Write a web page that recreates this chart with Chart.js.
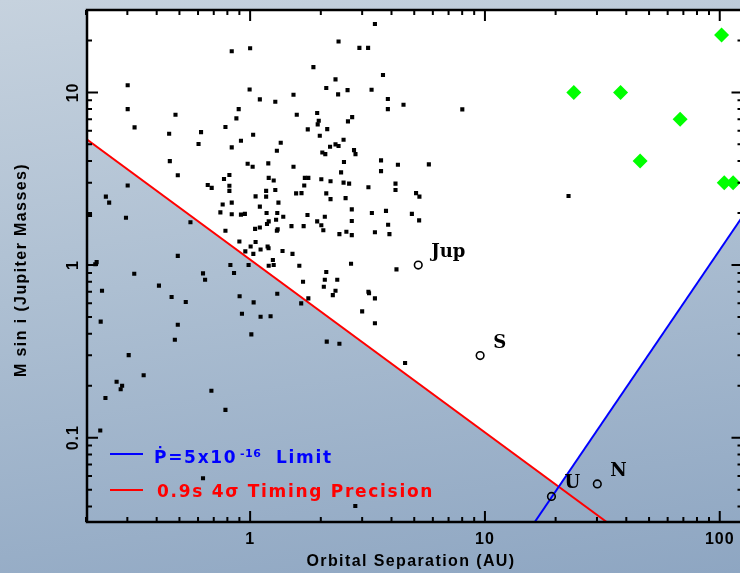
<!DOCTYPE html>
<html>
<head>
<meta charset="utf-8">
<script src="https://cdn.jsdelivr.net/npm/chart.js@4/dist/chart.umd.min.js"></script>
<style>
  html, body {
    margin: 0;
    padding: 0;
    width: 740px;
    height: 573px;
    overflow: hidden;
    background: linear-gradient(172deg, #c6d2de 0%, #adbfd2 45%, #8ea6c2 100%);
  }
  #wrap { position: absolute; left: 0; top: 0; width: 750px; height: 573px; }
  canvas { display: block; }
</style>
</head>
<body>
<div id="wrap"><canvas id="sepChart" width="750" height="573"></canvas></div>
<script>
// radial velocity planets: [separation AU, M sin i (Mjup)]
const rvPlanets = [
  [0.301, 11.0], [0.301, 8.0], [0.481, 7.42], [0.322, 6.27], [0.452, 5.76], [0.618, 5.89], [0.603, 5.02],
  [0.455, 4.0], [0.492, 3.31], [0.301, 2.89], [0.243, 2.49], [0.251, 2.30], [0.208, 1.95], [0.296, 1.88],
  [0.557, 1.77], [0.222, 1.04], [0.219, 1.01], [0.492, 1.13], [0.321, 0.89], [0.234, 0.71], [0.409, 0.76],
  [0.463, 0.653], [0.532, 0.611], [0.231, 0.47], [0.492, 0.451], [0.478, 0.369], [0.304, 0.301], [0.352, 0.230],
  [0.270, 0.211], [0.285, 0.200], [0.281, 0.191], [0.242, 0.170], [0.684, 0.187], [0.230, 0.110], [0.630, 0.0582],
  [0.785, 0.145], [2.805, 0.0402],
  [3.40, 24.9], [2.38, 19.7], [0.835, 17.3], [1.00, 18.0], [2.92, 18.1], [3.18, 18.1], [1.86, 14.0], [3.68, 12.6],
  [2.31, 11.9], [0.995, 10.4], [2.11, 10.6], [2.60, 10.3], [3.29, 10.35], [1.53, 9.69], [2.37, 9.74], [1.10, 9.11],
  [1.28, 8.82], [3.86, 9.15], [3.86, 8.0], [4.50, 8.48], [0.894, 8.0], [0.874, 7.07], [1.58, 7.42], [1.93, 7.59],
  [1.96, 6.85], [1.94, 6.53], [2.72, 7.19], [2.61, 6.79], [0.785, 6.30], [1.76, 6.11], [2.13, 6.13], [1.03, 5.68],
  [1.98, 5.61], [0.914, 5.25], [0.835, 4.80], [1.35, 5.11], [1.30, 4.59], [2.50, 5.32], [2.31, 5.0], [2.38, 4.89],
  [2.19, 4.84], [2.03, 4.49], [2.09, 4.39], [2.77, 4.63], [2.81, 4.39], [0.976, 3.86], [1.025, 3.71], [1.195, 3.88],
  [1.53, 3.71], [2.51, 3.95], [3.61, 4.04], [4.26, 3.81], [5.77, 3.83], [3.61, 3.50], [2.44, 3.44], [0.816, 3.32],
  [0.774, 3.15], [1.20, 3.20], [1.26, 3.09], [1.71, 3.20], [1.77, 3.20], [2.01, 3.14], [2.20, 3.06], [0.660, 2.91],
  [0.686, 2.80], [0.816, 2.88], [0.816, 2.69], [1.70, 2.89], [2.50, 3.0], [2.64, 2.96], [3.19, 2.82], [4.16, 2.96],
  [4.16, 2.72], [5.09, 2.61], [5.26, 2.49], [1.17, 2.69], [1.28, 2.72], [1.055, 2.50], [1.17, 2.49], [1.57, 2.60],
  [1.655, 2.61], [2.11, 2.60], [2.20, 2.41], [2.55, 2.44],
  [0.764, 2.24], [0.835, 2.30], [1.10, 2.18], [1.32, 2.30], [0.747, 2.02], [0.835, 1.97], [0.914, 1.96], [0.950, 1.98],
  [1.175, 2.0], [1.305, 2.0], [1.384, 1.905], [1.29, 1.83], [1.20, 1.79], [1.18, 1.73], [1.755, 1.95], [2.08, 1.905],
  [2.71, 2.10], [2.71, 1.80], [3.30, 2.0], [3.79, 2.06], [4.885, 1.98], [5.245, 1.815], [1.50, 1.68], [1.69, 1.68],
  [1.93, 1.79], [2.01, 1.70], [2.05, 1.59], [1.05, 1.62], [1.10, 1.65], [1.30, 1.58], [1.31, 1.61], [0.785, 1.58],
  [2.57, 1.56], [2.40, 1.51], [2.71, 1.49], [3.40, 1.55], [3.87, 1.71], [3.92, 1.51], [0.90, 1.37], [1.055, 1.36],
  [1.005, 1.28], [0.954, 1.20], [1.032, 1.16], [1.108, 1.23], [1.187, 1.28], [1.198, 1.25], [1.374, 1.205], [1.515, 1.16],
  [1.25, 1.07], [1.20, 0.99], [1.26, 1.0], [0.985, 1.0], [0.824, 1.0], [0.854, 0.90], [0.630, 0.895], [0.643, 0.822],
  [1.62, 0.99], [2.69, 1.017], [4.20, 0.944], [2.11, 0.911], [2.08, 0.822], [2.35, 0.822], [1.68, 0.80], [2.06, 0.749],
  [2.31, 0.71], [2.25, 0.67], [3.19, 0.70], [3.21, 0.686], [3.40, 0.641], [1.305, 0.682], [0.902, 0.659], [1.035, 0.608],
  [1.77, 0.641], [1.65, 0.60], [3.0, 0.539], [3.40, 0.46], [0.923, 0.522], [1.108, 0.502], [1.222, 0.505], [1.012, 0.397],
  [2.12, 0.36], [2.40, 0.35],
  [8.01, 7.97], [22.7, 2.51], [4.57, 0.271]
];

// wide companions (green diamonds)
const wideSep = [101.8, 23.9, 37.8, 67.8, 45.8, 104.5, 114];
const wideMass = [21.5, 10.0, 10.0, 7.0, 4.0, 3.0, 3.0];

// solar system
const solarNames = ['Jup', 'S', 'U', 'N'];
const solarSep = [5.2, 9.54, 19.2, 30.1];
const solarMass = [1.0, 0.299, 0.0457, 0.054];

// limit lines
const timingLine = [[0.2, 5.39], [33.0, 0.0325]];
const pdotLine = [[16.3, 0.0325], [125, 1.91]];
const openEdge = [[0.2, 5.39], [20.65, 0.0522], [125, 1.91]];

// axes
const xRange = [0.2, 125];
const yRange = [0.0325, 30];
const xMajor = [1, 10, 100];
const xLabels = ['1', '10', '100'];
const xMinor = [0.2, 0.3, 0.4, 0.5, 0.6, 0.7, 0.8, 0.9, 2, 3, 4, 5, 6, 7, 8, 9, 20, 30, 40, 50, 60, 70, 80, 90];
const yMajor = [0.1, 1, 10];
const yLabels = ['0.1', '1', '10'];
const yMinor = [0.04, 0.05, 0.06, 0.07, 0.08, 0.09, 0.2, 0.3, 0.4, 0.5, 0.6, 0.7, 0.8, 0.9, 2, 3, 4, 5, 6, 7, 8, 9, 20, 30];

const toXY = arr => arr.map(p => ({ x: p[0], y: p[1] }));

// frame, inward ticks and all text
const framePlugin = {
    id: 'framePlugin',
    afterDraw(chart) {
        const ctx = chart.ctx;
        const xs = chart.scales.x, ys = chart.scales.y;
        const L = 87, R = chart.chartArea.right, T = chart.chartArea.top, B = chart.chartArea.bottom;
        ctx.save();
        ctx.strokeStyle = '#000';
        ctx.lineWidth = 2;
        ctx.beginPath();
        xMinor.map(v => [v, 5]).concat(xMajor.map(v => [v, 11])).forEach(([v, len]) => {
            const px = xs.getPixelForValue(v);
            ctx.moveTo(px, B); ctx.lineTo(px, B - len);
            ctx.moveTo(px, T); ctx.lineTo(px, T + len);
        });
        yMinor.map(v => [v, 5]).concat(yMajor.map(v => [v, 11])).forEach(([v, len]) => {
            const py = ys.getPixelForValue(v);
            ctx.moveTo(L, py); ctx.lineTo(L + len, py);
            ctx.moveTo(R, py); ctx.lineTo(R - len, py);
        });
        ctx.stroke();
        ctx.lineWidth = 2.5;
        ctx.strokeRect(L, T, R - L, B - T);

        // tick labels
        ctx.fillStyle = '#000';
        ctx.font = 'bold 16px "Liberation Sans"';
        ctx.letterSpacing = '1px';
        ctx.textAlign = 'center';
        ctx.textBaseline = 'alphabetic';
        xMajor.forEach((v, i) => ctx.fillText(xLabels[i], xs.getPixelForValue(v), 544));
        yMajor.forEach((v, i) => {
            ctx.save();
            ctx.translate(78, ys.getPixelForValue(v));
            ctx.rotate(-Math.PI / 2);
            ctx.fillText(yLabels[i], 0, 0);
            ctx.restore();
        });

        // axis titles
        ctx.letterSpacing = '1.4px';
        ctx.fillText('Orbital Separation (AU)', 411, 566);
        ctx.save();
        ctx.translate(26, 270);
        ctx.rotate(-Math.PI / 2);
        ctx.fillText('M sin i (Jupiter Masses)', 0, 0);
        ctx.restore();

        // solar system labels
        ctx.letterSpacing = '0px';
        ctx.textAlign = 'left';
        ctx.font = 'bold 18px "DejaVu Serif"';
        solarNames.forEach((n, i) => {
            ctx.fillText(n, xs.getPixelForValue(solarSep[i]) + 13, ys.getPixelForValue(solarMass[i]) - 8);
        });

        // legend
        ctx.lineWidth = 2;
        ctx.strokeStyle = '#0000ff';
        ctx.beginPath(); ctx.moveTo(110, 454); ctx.lineTo(143, 454); ctx.stroke();
        ctx.strokeStyle = '#ff0000';
        ctx.beginPath(); ctx.moveTo(110, 490); ctx.lineTo(143, 490); ctx.stroke();
        ctx.font = 'bold 17px "DejaVu Sans"';
        ctx.letterSpacing = '1.7px';
        ctx.fillStyle = '#0000ff';
        ctx.fillText('\u1E56=5x10', 154, 463);
        ctx.fillText('Limit', 276, 463);
        ctx.font = 'bold 11px "DejaVu Sans"';
        ctx.letterSpacing = '0.5px';
        ctx.fillText('-16', 240, 457);
        ctx.font = 'bold 17px "DejaVu Sans"';
        ctx.letterSpacing = '1.7px';
        ctx.fillStyle = '#ff0000';
        ctx.fillText('0.9s 4\u03C3 Timing Precision', 157, 497);
        ctx.restore();
    }
};

document.addEventListener('DOMContentLoaded', function() {
    const ctx = document.getElementById('sepChart').getContext('2d');
    new Chart(ctx, {
        type: 'scatter',
        data: {
            datasets: [
                {
                    label: 'RV planets',
                    data: toXY(rvPlanets),
                    pointStyle: 'rect',
                    pointRadius: 2.9,
                    backgroundColor: '#000',
                    borderWidth: 0,
                    order: 0
                },
                {
                    label: 'Wide companions',
                    data: wideSep.map((v, i) => ({ x: v, y: wideMass[i] })),
                    pointStyle: 'rectRot',
                    pointRadius: 7.5,
                    backgroundColor: '#00ff00',
                    borderWidth: 0,
                    order: 1
                },
                {
                    label: 'Solar system',
                    data: solarSep.map((v, i) => ({ x: v, y: solarMass[i] })),
                    pointStyle: 'circle',
                    pointRadius: 3.8,
                    backgroundColor: 'rgba(0,0,0,0)',
                    borderColor: '#000',
                    borderWidth: 1.6,
                    order: 2
                },
                {
                    label: 'Pdot limit',
                    type: 'line',
                    data: toXY(pdotLine),
                    borderColor: '#0000ff',
                    borderWidth: 2,
                    pointRadius: 0,
                    fill: false,
                    order: 3
                },
                {
                    label: 'Timing precision',
                    type: 'line',
                    data: toXY(timingLine),
                    borderColor: '#ff0000',
                    borderWidth: 2,
                    pointRadius: 0,
                    fill: false,
                    order: 4
                },
                {
                    label: 'Open region',
                    type: 'line',
                    data: toXY(openEdge),
                    borderWidth: 0,
                    borderColor: 'rgba(0,0,0,0)',
                    backgroundColor: '#ffffff',
                    pointRadius: 0,
                    fill: 'end',
                    order: 5
                }
            ]
        },
        options: {
            responsive: false,
            animation: false,
            devicePixelRatio: 1,
            layout: { padding: { left: 86, right: 6, top: 10, bottom: 51 } },
            scales: {
                x: { type: 'logarithmic', min: xRange[0], max: xRange[1], display: false },
                y: { type: 'logarithmic', min: yRange[0], max: yRange[1], display: false }
            },
            plugins: {
                legend: { display: false },
                tooltip: { enabled: false }
            }
        },
        plugins: [framePlugin]
    });
});
</script>
</body>
</html>
